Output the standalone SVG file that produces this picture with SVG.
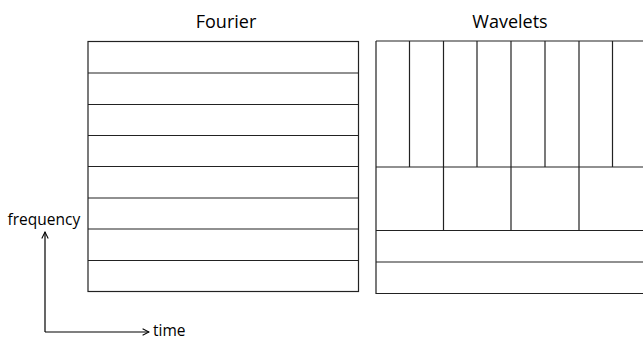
<svg xmlns="http://www.w3.org/2000/svg" width="643" height="340" viewBox="0 0 643 340">
  <defs>
    <marker id="chev" viewBox="0 0 10 10" refX="9" refY="5" markerWidth="8" markerHeight="8" markerUnits="userSpaceOnUse" orient="auto">
      <path d="M1,1 L9,5 L1,9" fill="none" stroke="#000" stroke-width="1.3"/>
    </marker>
  </defs>
  <style>
    .grid { fill: none; stroke: #222; stroke-width: 1.2; }
    .title { font-family: "Open Sans", "Noto Sans", sans-serif; font-size: 18px; fill: #000; text-anchor: middle; }
    .axis { font-family: "Open Sans", "Noto Sans", sans-serif; font-size: 15.5px; fill: #000; }
    .arrow { fill: none; stroke: #000; stroke-width: 1.2; }
  </style>
  <rect width="643" height="340" fill="#fff"/>

  <!-- Fourier tiling: uniform frequency bands -->
  <g id="fourier">
    <text class="title" x="226" y="28">Fourier</text>
    <rect class="grid" x="88" y="41.5" width="270.5" height="250"/>
    <path class="grid" d="M88,73 H358.5 M88,104.5 H358.5 M88,135.5 H358.5 M88,166.5 H358.5 M88,198 H358.5 M88,229 H358.5 M88,260.5 H358.5"/>
  </g>

  <!-- Wavelet tiling: dyadic time-frequency cells -->
  <g id="wavelets">
    <text class="title" x="510" y="28">Wavelets</text>
    <path class="grid" d="M376,41 V293.5 H650 M376,41 H650"/>
    <path class="grid" d="M376,167 H650 M376,230.5 H650 M376,262 H650"/>
    <path class="grid" d="M409.5,41 V167 M443.5,41 V230.5 M477,41 V167 M511,41 V230.5 M545,41 V167 M579,41 V230.5 M612.5,41 V167"/>
  </g>

  <!-- axes -->
  <g id="axes">
    <text class="axis" x="7.5" y="225">frequency</text>
    <text class="axis" x="153" y="335.5">time</text>
  </g>
  <g id="connectors">
    <path class="arrow" d="M45,332 V232" marker-end="url(#chev)"/>
    <path class="arrow" d="M45,332 H149" marker-end="url(#chev)"/>
  </g>
</svg>
